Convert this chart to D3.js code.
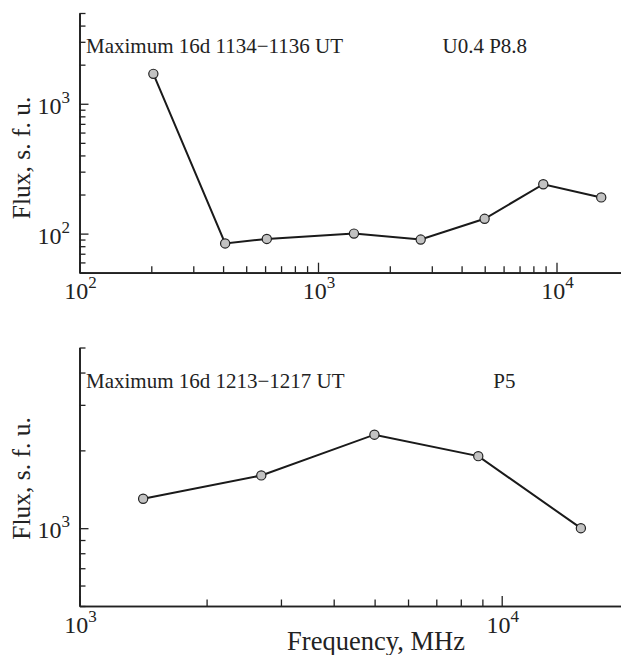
<!DOCTYPE html>
<html>
<head>
<meta charset="utf-8">
<script src="https://cdn.jsdelivr.net/npm/d3@7"></script>
<style>
  html, body { margin: 0; padding: 0; background: #fff; }
  svg { display: block; }
  text { font-family: "Liberation Serif", "Times New Roman", serif; fill: #222; }
</style>
</head>
<body>
<svg id="chart" width="621" height="655"></svg>
<script>
// ---- Data ----
const topFreq = [204, 408, 610, 1415, 2695, 4995, 8800, 15400];
const topFlux = [1700, 84, 91, 100, 90, 130, 240, 190];
const botFreq = [1415, 2695, 4995, 8800, 15400];
const botFlux = [1300, 1600, 2300, 1900, 1000];

// tick labels (exponents of 10)
const topXMajorExp = [2, 3, 4];
const topYMajorExp = [2, 3];
const botXMajorExp = [3, 4];
const botYMajorExp = [3];

const topTitle = "Maximum 16d 1134\u22121136 UT";
const topNote = "U0.4 P8.8";
const botTitle = "Maximum 16d 1213\u22121217 UT";
const botNote = "P5";
const yLabel = "Flux, s. f. u.";
const xLabel = "Frequency, MHz";

// ---- Drawing ----
const svg = d3.select("#chart");
const ink = "#222";

function panel(cfg) {
  const x = d3.scaleLog().domain(cfg.xDomain).range(cfg.xRange);
  const y = d3.scaleLog().domain(cfg.yDomain).range(cfg.yRange);
  const g = svg.append("g");
  const x0 = cfg.xRange[0], y0 = cfg.yRange[0];

  const xMajor = cfg.xMajorExp.map(e => Math.pow(10, e));
  const yMajor = cfg.yMajorExp.map(e => Math.pow(10, e));
  const isMajor = (v, arr) => arr.some(m => Math.abs(m - v) / m < 1e-9);
  const xMinor = x.ticks().filter(v => !isMajor(v, xMajor));
  const yMinor = y.ticks().filter(v => !isMajor(v, yMajor));

  const gx1 = g.append("g").attr("transform", `translate(0,${y0})`)
    .call(d3.axisBottom(x).tickValues(xMinor).tickSize(-6.5).tickSizeOuter(0).tickFormat(""));
  const gx2 = g.append("g").attr("transform", `translate(0,${y0})`)
    .call(d3.axisBottom(x).tickValues(xMajor).tickSize(-10).tickSizeOuter(0).tickFormat(""));
  const gy1 = g.append("g").attr("transform", `translate(${x0},0)`)
    .call(d3.axisLeft(y).tickValues(yMinor).tickSize(-6).tickSizeOuter(0).tickFormat(""));
  const gy2 = g.append("g").attr("transform", `translate(${x0},0)`)
    .call(d3.axisLeft(y).tickValues(yMajor).tickSize(-9).tickSizeOuter(0).tickFormat(""));
  [gx1, gx2, gy1, gy2].forEach(a => {
    a.selectAll("path.domain").attr("stroke", ink).attr("stroke-width", 1.7);
    a.selectAll(".tick line").attr("stroke", ink).attr("stroke-width", 1.3);
  });

  cfg.xMajorExp.forEach(e => {
    const t = g.append("text")
      .attr("x", x(Math.pow(10, e)) + 1)
      .attr("y", y0 + 26.5)
      .attr("text-anchor", "middle")
      .style("font-size", "24px");
    t.append("tspan").text("10");
    t.append("tspan").attr("dy", -11).style("font-size", "17px").text(String(e));
  });
  cfg.yMajorExp.forEach(e => {
    const t = g.append("text")
      .attr("x", x0 - 9.5)
      .attr("y", y(Math.pow(10, e)) + 10)
      .attr("text-anchor", "end")
      .style("font-size", "24px");
    t.append("tspan").text("10");
    t.append("tspan").attr("dy", -11).style("font-size", "17px").text(String(e));
  });

  g.append("text")
    .attr("transform", `translate(30,${cfg.yLabelY}) rotate(-90)`)
    .attr("text-anchor", "middle")
    .style("font-size", "25.5px")
    .text(yLabel);

  g.append("text").attr("x", 86).attr("y", cfg.titleY)
    .style("font-size", "21px").text(cfg.title);
  g.append("text").attr("x", cfg.noteX).attr("y", cfg.titleY)
    .style("font-size", "21px").text(cfg.note);

  const pts = cfg.freq.map((f, i) => [f, cfg.flux[i]]);
  g.append("path")
    .datum(pts)
    .attr("fill", "none")
    .attr("stroke", "#1a1a1a")
    .attr("stroke-width", 2)
    .attr("d", d3.line().x(d => x(d[0])).y(d => y(d[1])));
  g.selectAll("circle.pt").data(pts).enter().append("circle")
    .attr("class", "pt")
    .attr("cx", d => x(d[0]))
    .attr("cy", d => y(d[1]))
    .attr("r", 4.6)
    .attr("fill", "#c2c2c2")
    .attr("stroke", "#222")
    .attr("stroke-width", 1.2);
}

panel({
  xDomain: [100, 20000], xRange: [79.5, 628.3],
  yDomain: [50, 5000], yRange: [272.7, 13],
  xMajorExp: topXMajorExp, yMajorExp: topYMajorExp,
  freq: topFreq, flux: topFlux,
  title: topTitle, note: topNote, noteX: 442.5, titleY: 52.5,
  yLabelY: 158
});

panel({
  xDomain: [1000, 20000], xRange: [79.5, 628.8],
  yDomain: [500, 5000], yRange: [606, 347.5],
  xMajorExp: botXMajorExp, yMajorExp: botYMajorExp,
  freq: botFreq, flux: botFlux,
  title: botTitle, note: botNote, noteX: 493.3, titleY: 387.5,
  yLabelY: 478.5
});

svg.append("text")
  .attr("x", 376).attr("y", 650)
  .attr("text-anchor", "middle")
  .style("font-size", "26.5px")
  .text(xLabel);
</script>
</body>
</html>
